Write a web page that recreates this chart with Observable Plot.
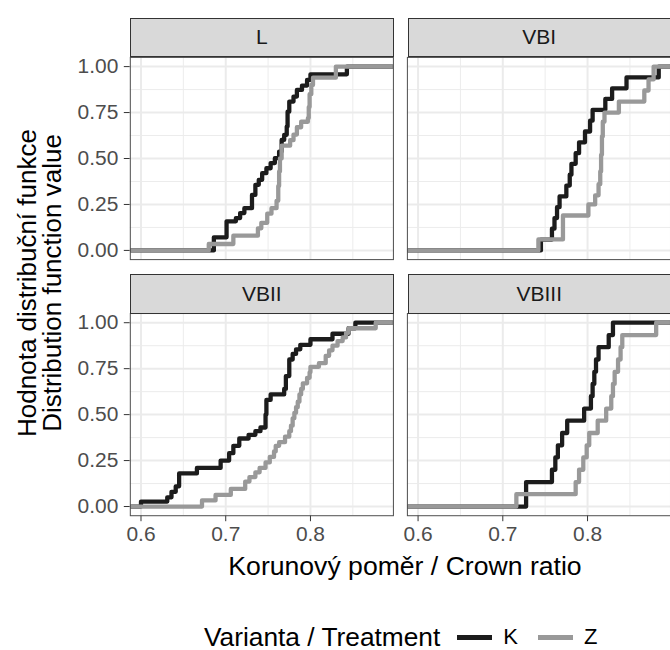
<!DOCTYPE html>
<html>
<head>
<meta charset="utf-8">
<script src="https://cdn.jsdelivr.net/npm/d3@7"></script>
<script src="https://cdn.jsdelivr.net/npm/@observablehq/plot@0.6"></script>
<style>
html,body{margin:0;padding:0;background:#fff;}
body{width:670px;height:650px;overflow:hidden;font-family:"Liberation Sans",Arial,Helvetica,sans-serif;}
#wrap{position:relative;width:670px;height:650px;overflow:hidden;}
#wrap svg{position:absolute;left:0;top:0;}
#wrap svg text{fill:#4d4d4d;}
.strip{position:absolute;box-sizing:border-box;background:#d9d9d9;border:1px solid #333;display:flex;align-items:center;justify-content:center;font-size:21px;color:#1a1a1a;}
.ytitle{position:absolute;width:400px;height:50px;line-height:25px;font-size:26px;color:#000;text-align:center;transform:rotate(-90deg);white-space:nowrap;}
.xtitle{position:absolute;width:500px;font-size:26.6px;line-height:30px;color:#000;text-align:center;white-space:nowrap;}
.legend{position:absolute;display:flex;align-items:center;white-space:nowrap;color:#000;}
.legend .ltitle{font-size:26.3px;}
.legend .key{display:inline-block;width:35px;height:5px;}
.legend .lab{font-size:22px;}
</style>
</head>
<body>
<div id="wrap"></div>
<script>
// ---- data: ECDF step positions (crown ratio at each jump, ECDF level after the jump) ----
const panels = ["L", "VBI", "VBII", "VBIII"];
const series = ["K", "Z"];
const seriesColors = ["#1c1c1c", "#999999"];

const L_K = [[0.686,0.071],[0.701,0.158],[0.712,0.176],[0.717,0.203],[0.722,0.230],[0.731,0.302],[0.735,0.357],[0.739,0.384],[0.743,0.420],[0.748,0.447],[0.753,0.475],[0.758,0.502],[0.763,0.538],[0.766,0.601],[0.769,0.629],[0.772,0.674],[0.773,0.755],[0.775,0.810],[0.780,0.837],[0.784,0.873],[0.790,0.897],[0.796,0.928],[0.800,0.958],[0.843,1]];
const L_Z = [[0.680,0.035],[0.709,0.08],[0.738,0.12],[0.742,0.15],[0.749,0.20],[0.754,0.23],[0.760,0.27],[0.762,0.35],[0.763,0.43],[0.764,0.50],[0.766,0.57],[0.776,0.60],[0.780,0.63],[0.784,0.67],[0.789,0.70],[0.797,0.72],[0.798,0.78],[0.799,0.85],[0.801,0.90],[0.803,0.94],[0.830,1]];
const VBI_K = [[0.745,0.059],[0.758,0.118],[0.761,0.176],[0.764,0.235],[0.767,0.294],[0.775,0.353],[0.779,0.412],[0.781,0.471],[0.786,0.529],[0.790,0.588],[0.797,0.647],[0.803,0.706],[0.806,0.765],[0.821,0.824],[0.829,0.882],[0.846,0.941],[0.884,1]];
const VBI_Z = [[0.742,0.06],[0.771,0.19],[0.801,0.25],[0.809,0.30],[0.813,0.36],[0.815,0.43],[0.816,0.52],[0.817,0.62],[0.818,0.70],[0.820,0.75],[0.837,0.81],[0.867,0.87],[0.872,0.93],[0.878,1]];
const VBII_K = [[0.600,0.027],[0.631,0.05],[0.636,0.08],[0.641,0.11],[0.645,0.18],[0.666,0.21],[0.694,0.25],[0.704,0.29],[0.709,0.33],[0.716,0.37],[0.727,0.39],[0.735,0.41],[0.741,0.43],[0.747,0.50],[0.748,0.58],[0.753,0.61],[0.769,0.64],[0.771,0.71],[0.775,0.80],[0.779,0.83],[0.783,0.855],[0.788,0.88],[0.800,0.91],[0.826,0.94],[0.845,0.97],[0.853,1]];
const VBII_Z = [[0.672,0.033],[0.688,0.063],[0.706,0.096],[0.723,0.136],[0.728,0.16],[0.735,0.186],[0.740,0.21],[0.747,0.24],[0.752,0.27],[0.757,0.30],[0.759,0.33],[0.763,0.35],[0.770,0.38],[0.775,0.41],[0.777,0.44],[0.779,0.48],[0.781,0.51],[0.783,0.54],[0.785,0.57],[0.787,0.61],[0.789,0.64],[0.791,0.67],[0.796,0.70],[0.799,0.73],[0.800,0.76],[0.810,0.78],[0.818,0.82],[0.822,0.85],[0.826,0.875],[0.832,0.90],[0.838,0.92],[0.842,0.945],[0.845,0.97],[0.877,1]];
const VBIII_K = [[0.7275,0.133],[0.758,0.2],[0.762,0.267],[0.765,0.333],[0.770,0.4],[0.776,0.467],[0.796,0.533],[0.804,0.6],[0.806,0.667],[0.808,0.733],[0.810,0.8],[0.813,0.867],[0.825,0.933],[0.830,1]];
const VBIII_Z = [[0.716,0.067],[0.786,0.133],[0.790,0.2],[0.795,0.267],[0.799,0.333],[0.802,0.4],[0.812,0.467],[0.822,0.533],[0.828,0.6],[0.830,0.667],[0.832,0.733],[0.836,0.8],[0.839,0.867],[0.841,0.933],[0.881,1]];

const xDomain = [0.5874, 0.8979];
const yDomain = [-0.05, 1.05];
const xTicks = [0.6, 0.7, 0.8];
const xMinor = [0.65, 0.75, 0.85];
const yTicks = [0, 0.25, 0.5, 0.75, 1];
const yMinor = [0.125, 0.375, 0.625, 0.875];

const xTitle = "Korunový poměr / Crown ratio";
const yTitle = ["Hodnota distribuční funkce", "Distribution function value"];
const legendTitle = "Varianta / Treatment";

// ---- build table ----
const steps = {
  L: {K: L_K, Z: L_Z},
  VBI: {K: VBI_K, Z: VBI_Z},
  VBII: {K: VBII_K, Z: VBII_Z},
  VBIII: {K: VBIII_K, Z: VBIII_Z}
};
const rows = [];
for (const s of series) {
  panels.forEach((p, i) => {
    const base = {panel: p, series: s, key: p + s, col: i % 2, row: Math.floor(i / 2)};
    rows.push({...base, x: xDomain[0], y: 0});
    for (const [x, y] of steps[p][s]) rows.push({...base, x, y});
    rows.push({...base, x: xDomain[1], y: 1});
  });
}

// ---- layout ----
const W = 671, H = 548;
const ML = 130, MR = 0, MT = 57, MB = 32;
const gapX = 14, gapY = 54, stripH = 39.5;
const bwX = (W - ML - MR - gapX) / 2;
const bwY = (H - MT - MB - gapY) / 2;

const chart = Plot.plot({
  width: W,
  height: H,
  marginLeft: ML, marginRight: MR, marginTop: MT, marginBottom: MB,
  style: {fontFamily: "'Liberation Sans', Arial, Helvetica, sans-serif", fontSize: "21px", color: "#333", background: "transparent"},
  fx: {domain: [0, 1], axis: null, paddingInner: gapX / (bwX + gapX), paddingOuter: 0, round: false},
  fy: {domain: [0, 1], axis: null, paddingInner: gapY / (bwY + gapY), paddingOuter: 0, round: false},
  x: {domain: xDomain, ticks: xTicks, tickFormat: d3.format(".1f"), tickSize: 6, tickPadding: 4, label: null},
  y: {domain: yDomain, ticks: yTicks, tickFormat: d3.format(".2f"), tickSize: 6, tickPadding: 6, label: null},
  color: {domain: series, range: seriesColors},
  marks: [
    Plot.ruleX(xMinor, {stroke: "#ececec", strokeWidth: 1}),
    Plot.ruleY(yMinor, {stroke: "#ececec", strokeWidth: 1}),
    Plot.ruleX(xTicks, {stroke: "#ebebeb", strokeWidth: 2}),
    Plot.ruleY(yTicks, {stroke: "#ebebeb", strokeWidth: 2}),
    Plot.line(rows, {x: "x", y: "y", z: "key", stroke: "series", fx: "col", fy: "row",
      curve: "step-after", strokeWidth: 4.3, strokeLinejoin: "round", strokeLinecap: "butt", clip: true}),
    Plot.frame({stroke: "#4d4d4d", strokeWidth: 1})
  ]
});

const wrap = document.getElementById("wrap");
wrap.appendChild(chart);

// strips
panels.forEach((p, i) => {
  const col = i % 2, row = Math.floor(i / 2);
  const d = document.createElement("div");
  d.className = "strip";
  d.style.left = (ML + col * (bwX + gapX)) + "px";
  d.style.top = (MT + row * (bwY + gapY) - stripH) + "px";
  d.style.width = bwX + "px";
  d.style.height = stripH + "px";
  d.textContent = p;
  wrap.appendChild(d);
});

// y title
const yt = document.createElement("div");
yt.className = "ytitle";
const ycx = 40, ycy = 283;
yt.style.left = (ycx - 200) + "px";
yt.style.top = (ycy - 25) + "px";
yt.innerHTML = yTitle.map(t => `<div>${t}</div>`).join("");
wrap.appendChild(yt);

// x title
const xt = document.createElement("div");
xt.className = "xtitle";
xt.style.left = (405 - 250) + "px";
xt.style.top = (566 - 15) + "px";
xt.textContent = xTitle;
wrap.appendChild(xt);

// legend
const lg = document.createElement("div");
lg.className = "legend";
lg.style.left = "204px";
lg.style.top = (637 - 15) + "px";
lg.style.height = "30px";
const lt = document.createElement("span");
lt.className = "ltitle";
lt.textContent = legendTitle;
lg.appendChild(lt);
series.forEach((s, i) => {
  const k = document.createElement("span");
  k.className = "key";
  k.style.background = seriesColors[i];
  k.style.marginLeft = (i === 0 ? 17 : 20) + "px";
  lg.appendChild(k);
  const l = document.createElement("span");
  l.className = "lab";
  l.style.marginLeft = "11px";
  l.textContent = s;
  lg.appendChild(l);
});
wrap.appendChild(lg);
</script>
</body>
</html>
